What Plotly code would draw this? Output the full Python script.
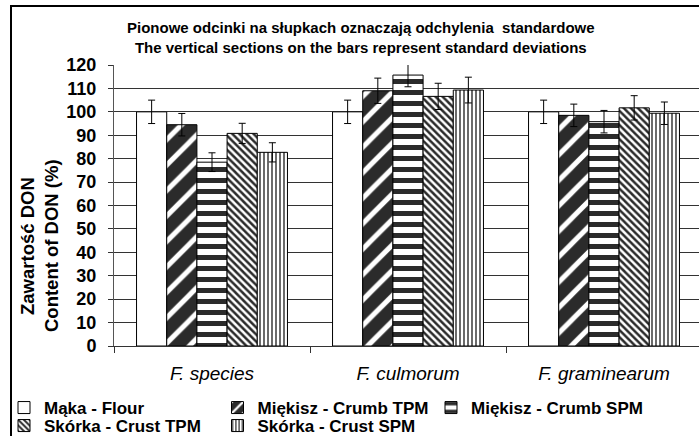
import plotly.graph_objects as go

categories = ["F. species", "F. culmorum", "F. graminearum"]

flour = [100, 100, 100]
flour_sd = [5.0, 5.0, 5.0]
crumb_tpm = [94.5, 109.0, 98.5]
crumb_tpm_sd = [4.8, 5.4, 4.8]
crumb_spm = [78.5, 115.7, 95.8]
crumb_spm_sd = [4.0, 5.0, 4.8]
crust_tpm = [90.8, 106.6, 101.7]
crust_tpm_sd = [4.3, 5.6, 5.2]
crust_spm = [82.7, 109.3, 99.4]
crust_spm_sd = [4.1, 5.5, 4.8]

series_names = ["Mąka - Flour", "Miękisz - Crumb TPM", "Miękisz - Crumb SPM",
                "Skórka - Crust TPM", "Skórka - Crust SPM"]

y_ticks = [0, 10, 20, 30, 40, 50, 60, 70, 80, 90, 100, 110, 120]

title_text = ("Pionowe odcinki na słupkach oznaczają odchylenia  standardowe<br>"
              "The vertical sections on the bars represent standard deviations")
ytitle_1 = "Zawartość DON"
ytitle_2 = "Content of DON (%)"

FONT = "Arial, 'Liberation Sans', sans-serif"
DARK = "#2b2b2b"

W, H = 699, 436
L, T, B = 114, 65, 90
PW = W - L
PH = H - T - B


def px_x(px):
    return (px - L) / PW


def px_y(py):
    return (H - B - py) / PH


patterns = [
    dict(shape=""),
    dict(shape="/", fgcolor="white", bgcolor=DARK, size=18, solidity=0.28, fillmode="replace"),
    dict(shape="-", fgcolor=DARK, bgcolor="white", size=11, solidity=0.45, fillmode="replace"),
    dict(shape="\\", fgcolor=DARK, bgcolor="white", size=5, solidity=0.5, fillmode="replace"),
    dict(shape="|", fgcolor=DARK, bgcolor="white", size=4, solidity=0.35, fillmode="replace"),
]
values = [flour, crumb_tpm, crumb_spm, crust_tpm, crust_spm]
sds = [flour_sd, crumb_tpm_sd, crumb_spm_sd, crust_tpm_sd, crust_spm_sd]
legends = ["legend", "legend", "legend", "legend2", "legend2"]

fig = go.Figure()
for name, vals, sd, pat, lg in zip(series_names, values, sds, patterns, legends):
    marker = dict(color="white", line=dict(color="black", width=1))
    if pat["shape"]:
        marker["pattern"] = pat
    fig.add_trace(go.Bar(
        x=categories, y=vals, name=name, marker=marker, legend=lg,
        error_y=dict(type="data", array=sd, color="black", thickness=1, width=3.5),
    ))

LEG_FONT = dict(size=17, family=FONT, color="black", weight="bold")
fig.update_layout(
    width=W, height=H,
    margin=dict(l=L, r=0, t=T, b=B, autoexpand=False),
    paper_bgcolor="white", plot_bgcolor="white",
    barmode="group", bargap=0.23, bargroupgap=0,
    font=dict(family=FONT, color="black"),
    showlegend=True,
    legend=dict(orientation="h", x=px_x(4), xanchor="left", y=px_y(408), yanchor="middle",
                font=LEG_FONT, entrywidth=168.5, itemwidth=30,
                bgcolor="rgba(0,0,0,0)", traceorder="normal"),
    legend2=dict(orientation="h", x=px_x(4), xanchor="left", y=px_y(426), yanchor="middle",
                 font=LEG_FONT, entrywidth=168.5, itemwidth=30,
                 bgcolor="rgba(0,0,0,0)", traceorder="normal"),
)

fig.update_xaxes(
    range=[-0.5, -0.5 + PW / 196.0],
    showline=True, linecolor="#333", linewidth=1,
    ticks="outside", tickson="boundaries", ticklen=6, tickcolor="#333",
    tickfont=dict(size=19, family=FONT, color="black", style="italic"),
    ticklabelstandoff=10,
    showgrid=False, zeroline=False, fixedrange=True,
)
fig.update_yaxes(
    range=[0, 120], tickvals=y_ticks,
    showline=True, linecolor="#555", linewidth=1,
    ticks="outside", ticklen=5, tickcolor="#333",
    tickfont=dict(size=18, family=FONT, color="black", weight="bold"),
    ticklabelstandoff=8,
    showgrid=True, gridcolor="#333", gridwidth=1, zeroline=False, fixedrange=True,
)

# outer chart frame
fig.add_shape(type="rect", xref="paper", yref="paper",
              x0=px_x(11), x1=px_x(760), y0=px_y(500), y1=px_y(6),
              line=dict(color="black", width=2), fillcolor="rgba(0,0,0,0)", layer="below")

fig.add_annotation(text="<b>" + title_text + "</b>", xref="paper", yref="paper",
                   x=px_x(361), y=px_y(37.5), xanchor="center", yanchor="middle",
                   showarrow=False, font=dict(size=15, family=FONT, color="black"))
fig.add_annotation(text="<b>" + ytitle_1 + "</b>", xref="paper", yref="paper",
                   x=px_x(27), y=px_y(246), textangle=-90, xanchor="center", yanchor="middle",
                   showarrow=False, font=dict(size=18.5, family=FONT, color="black"))
fig.add_annotation(text="<b>" + ytitle_2 + "</b>", xref="paper", yref="paper",
                   x=px_x(51), y=px_y(246), textangle=-90, xanchor="center", yanchor="middle",
                   showarrow=False, font=dict(size=18.5, family=FONT, color="black"))

fig.write_html("out.html", config={"displayModeBar": False},
               post_script="document.body.style.margin='0px';")
